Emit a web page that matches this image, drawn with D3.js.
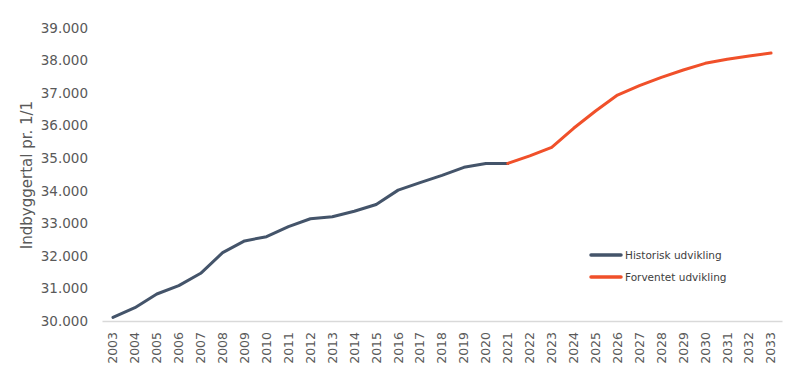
<!DOCTYPE html>
<html><head><meta charset="utf-8">
<script src="https://cdn.jsdelivr.net/npm/d3@7"></script>
<style>body{margin:0;background:#fff}</style>
</head><body>
<svg id="c" width="808" height="390"></svg>
<script>
const years = d3.range(2003, 2034).map(String);
const historicYears = years.slice(0, 19); // 2003-2021
const historicValues = [30110,30410,30830,31085,31465,32100,32460,32590,32900,33140,33200,33370,33580,34020,34250,34475,34720,34840,34840];
const forecastYears = years.slice(18); // 2021-2033
const forecastValues = [34840,35070,35335,35920,36450,36940,37230,37485,37710,37915,38040,38140,38230];
const yTicks = [30000,31000,32000,33000,34000,35000,36000,37000,38000,39000];
const seriesNames = ["Historisk udvikling","Forventet udvikling"];
const colors = ["#44546A","#F0502A"];

const svg = d3.select("#c");
const font = "DejaVu Sans, Verdana, sans-serif";
const x = d3.scaleBand().domain(years).range([102, 782]);
const y = d3.scaleLinear().domain([30000, 39000]).range([321, 28]);
const fmt = d => d3.format(",")(d).replace(/,/g, ".");

// y axis
const ya = svg.append("g").attr("transform","translate(90,0)")
  .call(d3.axisLeft(y).tickValues(yTicks).tickFormat(fmt).tickSize(0).tickPadding(2));
ya.select(".domain").remove();
ya.selectAll("text").attr("font-family", font).attr("font-size", 13.5).attr("fill", "#595959");

// x axis
const xa = svg.append("g").attr("transform","translate(0,321)")
  .call(d3.axisBottom(x).tickSize(0));
xa.select(".domain").attr("stroke","#d9d9d9").attr("stroke-width",1.3);
xa.selectAll("text").attr("font-family", font).attr("font-size", 12.5).attr("fill", "#595959")
  .attr("transform","rotate(-90)").attr("text-anchor","end").attr("dy","0.35em").attr("x",-11).attr("y",0);

// y title
svg.append("text").attr("transform","translate(32,175) rotate(-90)")
  .attr("text-anchor","middle").attr("font-family",font).attr("font-size",15).attr("fill","#595959")
  .text("Indbyggertal pr. 1/1");

const line = d3.line().x(d => x(d[0]) + x.bandwidth()/2).y(d => y(d[1]));
svg.append("path").datum(d3.zip(historicYears, historicValues))
  .attr("d", line).attr("fill","none").attr("stroke",colors[0]).attr("stroke-width",3).attr("stroke-linecap","round").attr("stroke-linejoin","round");
svg.append("path").datum(d3.zip(forecastYears, forecastValues))
  .attr("d", line).attr("fill","none").attr("stroke",colors[1]).attr("stroke-width",3).attr("stroke-linecap","round").attr("stroke-linejoin","round");

// legend
seriesNames.forEach((n,i) => {
  const ly = 255 + i*22;
  svg.append("line").attr("x1",591).attr("x2",621).attr("y1",ly).attr("y2",ly)
    .attr("stroke",colors[i]).attr("stroke-width",3.5).attr("stroke-linecap","round");
  svg.append("text").attr("x",625).attr("y",ly).attr("dy","0.35em")
    .attr("font-family",font).attr("font-size",10.5).attr("fill","#404040").text(n);
});
</script>
</body></html>
